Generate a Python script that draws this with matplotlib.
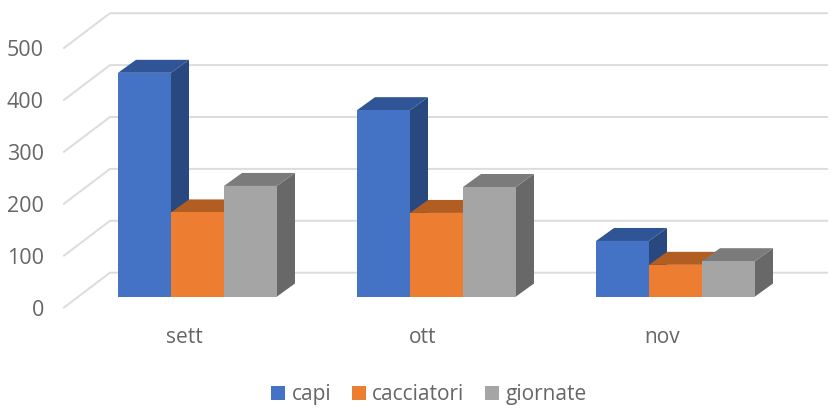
import matplotlib
matplotlib.use('Agg')
import matplotlib.pyplot as plt
from matplotlib.patches import Patch, Polygon
from matplotlib.transforms import Affine2D

mesi = ['sett', 'ott', 'nov']
capi = [431, 359, 107]
cacciatori = [162, 161, 61]
giornate = [213, 211, 68]
serie = ['capi', 'cacciatori', 'giornate']
tacche = [0, 100, 200, 300, 400, 500]

colori = ['#4472C4', '#ED7D31', '#A5A5A5']
colori_top = ['#2F5597', '#B25D22', '#7B7B7B']
colori_lato = ['#28487F', '#A04F1C', '#686868']
grigio_testo = '#666666'
grigio_griglia = '#DCDCDC'

plt.rcParams['font.family'] = ['Open Sans', 'DejaVu Sans']

W, H = 831, 408
fig = plt.figure(figsize=(W / 100, H / 100), dpi=100)
ax = fig.add_axes([0, 0, 1, 1])
ax.axis('off')

# scala: un mese = 239 px, 100 unita = 51.9 px, zero a 296.5 px dall'alto
px_mese = 239
px_unita = 0.519
x_primo = 197.5
y_zero = 296.5
ax.set_xlim(-x_primo / px_mese, (W - x_primo) / px_mese)
ax.set_ylim(-(H - y_zero) / px_unita, y_zero / px_unita)

larg = 53 / px_mese
prof_x, prof_y = 18, 13


def sposta(dx, dy):
    # dati -> pixel, con uno spostamento in pixel per la profondita
    return ax.transData + Affine2D().translate(dx, dy)


# griglia: tratto obliquo sul lato sinistro e linea sul fondo
x_sin = (79 - x_primo) / px_mese
x_des = (796 - x_primo) / px_mese
for t in tacche:
    a = sposta(-15, -11)
    b = sposta(31, 23.8)
    p0 = a.transform((x_sin, t))
    p1 = b.transform((x_sin, t))
    p2 = b.transform((x_des, t))
    ax.plot([p0[0], p1[0], p2[0]], [p0[1], p1[1], p2[1]], color=grigio_griglia,
            lw=1.4, transform=None, solid_joinstyle='miter', zorder=1)
    ax.annotate(str(t), xy=(x_sin, t), xycoords=a, xytext=(-20, -3), textcoords='offset pixels',
                ha='right', va='center', fontsize=15.5, color=grigio_testo)

# barre 3d, da sinistra a destra cosi le facce si coprono bene
z = 2
avanti = ax.transData
dietro = sposta(prof_x, prof_y)
for i in range(len(mesi)):
    valori = [capi[i], cacciatori[i], giornate[i]]
    for j in range(3):
        x0 = i + (j - 1.5) * larg
        x1 = x0 + larg
        v = valori[j]
        f = [avanti.transform((x1, 0)), avanti.transform((x1, v)),
             dietro.transform((x1, v)), dietro.transform((x1, 0))]
        ax.add_patch(Polygon(f, closed=True, facecolor=colori_lato[j], lw=0, transform=None, zorder=z))
        f = [avanti.transform((x0, v)), avanti.transform((x1, v)),
             dietro.transform((x1, v)), dietro.transform((x0, v))]
        ax.add_patch(Polygon(f, closed=True, facecolor=colori_top[j], lw=0, transform=None, zorder=z))
        ax.bar(x0, v, width=larg, align='edge', color=colori[j], lw=0, zorder=z + 1)
        z += 2
    ax.annotate(mesi[i], xy=(i, 0), xycoords='data', xytext=(-13.5, -41), textcoords='offset pixels',
                ha='center', va='center', fontsize=15, color=grigio_testo)

maniglie = [Patch(facecolor=c, lw=0, label=s) for c, s in zip(colori, serie)]
fig.legend(handles=maniglie, loc='center', bbox_to_anchor=(429 / W, 1 - 394.5 / H), ncol=3, frameon=False,
           fontsize=15, labelcolor=grigio_testo, handlelength=0.67, handleheight=0.67,
           handletextpad=0.3, columnspacing=1.0, borderpad=0, borderaxespad=0)

fig.savefig('out.png', dpi=100)
